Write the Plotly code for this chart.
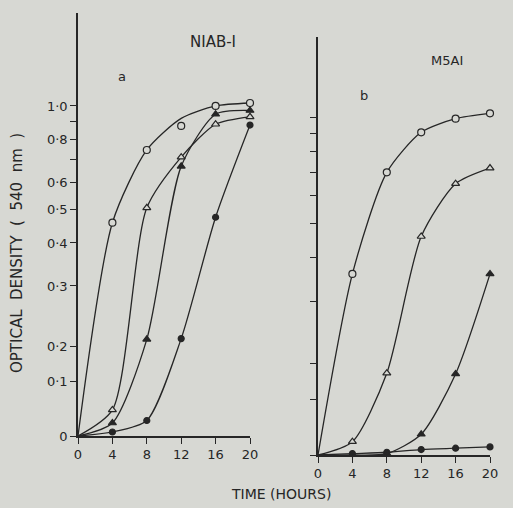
import plotly.graph_objects as go

# ---- data (hours, optical density read on the log-type axis) ----
hours = [0, 4, 8, 12, 16, 20]

# Panel a: NIAB-1
a_open_circle = [0.11, 0.458, 0.745, 0.875, 1.0, 1.02]
a_open_circle_curve = [0.11, 0.458, 0.745, 0.92, 1.0, 1.02]
a_open_triangle = [0.11, 0.131, 0.506, 0.71, 0.885, 0.93]
a_filled_triangle = [0.11, 0.12, 0.21, 0.668, 0.946, 0.97]
a_filled_circle = [0.11, 0.113, 0.122, 0.211, 0.475, 0.88]

# Panel b: M5A1
b_open_circle = [0.11, 0.36, 0.70, 0.91, 0.995, 1.03]
b_open_triangle = [0.11, 0.12, 0.188, 0.46, 0.65, 0.72]
b_filled_triangle = [0.11, 0.11, 0.111, 0.126, 0.187, 0.36]
b_filled_circle = [0.11, 0.111, 0.112, 0.114, 0.115, 0.116]

# axis ticks
y_tickvals = [0.11, 0.158, 0.2, 0.3, 0.4, 0.5, 0.6, 0.7, 0.8, 0.9, 1.0]
y_ticktext_a = ["0", "0·1", "0·2", "0·3", "0·4", "0·5", "0·6", "", "0·8", "", "1·0"]
y_ticktext_b = [""] * len(y_tickvals)
x_tickvals = [0, 4, 8, 12, 16, 20]
x_ticktext = ["0", "4", "8", "12", "16", "20"]

INK = "#262626"
BG = "#d7d8d3"
W, H = 513, 508

fig = go.Figure()


def add_series(xa, ya, y, symbol, filled, curve=None, size=7):
    fig.add_trace(go.Scatter(
        x=hours, y=curve if curve is not None else y, xaxis=xa, yaxis=ya,
        mode="lines", line=dict(color=INK, width=1.3, shape="spline", smoothing=0.7),
        hoverinfo="skip", showlegend=False, cliponaxis=False))
    fig.add_trace(go.Scatter(
        x=hours, y=y, xaxis=xa, yaxis=ya, mode="markers",
        marker=dict(symbol=symbol, size=size,
                    color=INK if filled else BG,
                    line=dict(color=INK, width=1.2)),
        showlegend=False, cliponaxis=False))


add_series("x", "y", a_filled_circle, "circle", True, size=6)
add_series("x", "y", a_filled_triangle, "triangle-up", True, size=7)
add_series("x", "y", a_open_triangle, "triangle-up", False, size=7)
add_series("x", "y", a_open_circle, "circle", False, curve=a_open_circle_curve, size=7)

add_series("x2", "y2", b_filled_circle, "circle", True, size=6)
add_series("x2", "y2", b_filled_triangle, "triangle-up", True, size=7)
add_series("x2", "y2", b_open_triangle, "triangle-up", False, size=7)
add_series("x2", "y2", b_open_circle, "circle", False, size=7)


def px_x(p):
    return p / W


def px_y(p):
    return 1 - p / H


axis_common = dict(showgrid=False, zeroline=False, showline=True, linecolor=INK,
                   linewidth=1.5, ticks="outside", tickcolor=INK, tickwidth=1.3,
                   ticklen=6, automargin=False,
                   tickfont=dict(family="DejaVu Sans", size=13, color=INK))

fig.update_layout(
    width=W, height=H, paper_bgcolor=BG, plot_bgcolor=BG,
    margin=dict(l=0, r=0, t=0, b=0, pad=0),
    xaxis=dict(domain=[px_x(78), px_x(250)], range=[0, 20], anchor="y",
               tickvals=x_tickvals, ticktext=x_ticktext, **axis_common),
    yaxis=dict(domain=[px_y(436), px_y(13)], type="log", range=[-0.9586, 0.27],
               anchor="x", tickvals=y_tickvals, ticktext=y_ticktext_a, **axis_common),
    xaxis2=dict(domain=[px_x(318), px_x(490)], range=[0, 20], anchor="y2",
                tickvals=x_tickvals, ticktext=x_ticktext, **axis_common),
    yaxis2=dict(domain=[px_y(455), px_y(37)], type="log", range=[-0.9586, 0.23],
                anchor="x2", tickvals=y_tickvals, ticktext=y_ticktext_b, **axis_common),
    font=dict(family="DejaVu Sans", color=INK),
)


def label(text, cx, cy, size=13, angle=0):
    fig.add_annotation(text=text, x=px_x(cx), y=px_y(cy), xref="paper", yref="paper",
                       xanchor="center", yanchor="middle", showarrow=False,
                       textangle=angle,
                       font=dict(family="DejaVu Sans", size=size, color=INK))


label("NIAB-I", 213, 42, size=15)
label("M5AI", 447, 60, size=13)
label("a", 122, 77)
label("b", 364, 95)
label("OPTICAL  DENSITY  (  540  nm  )", 17, 253, size=15, angle=-90)
label("TIME (HOURS)", 281, 494, size=14)

fig.write_html("out.html", config={"displayModeBar": False},
               post_script="document.body.style.margin='0';")
